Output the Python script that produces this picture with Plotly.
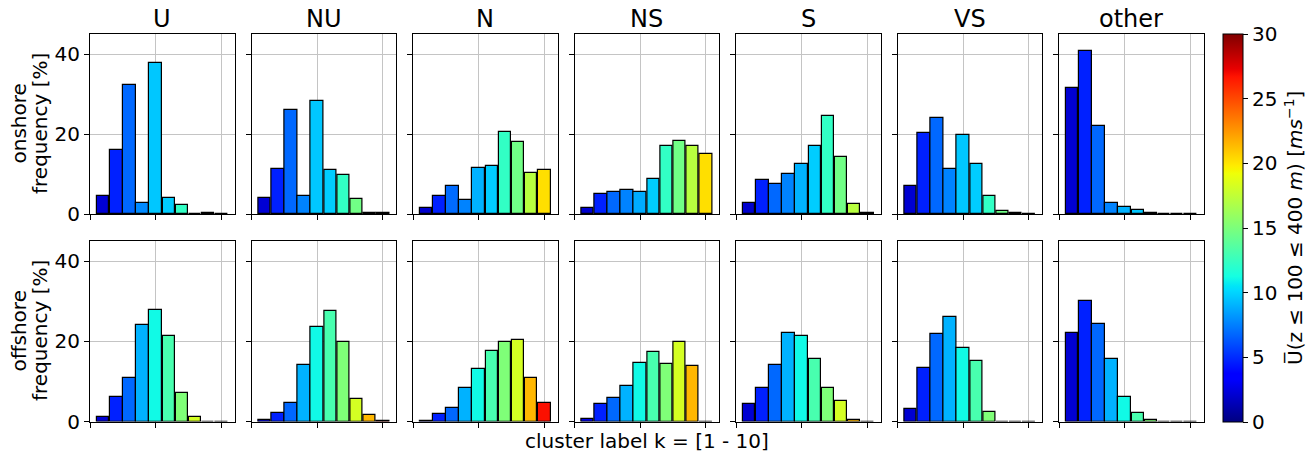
import numpy as np
import plotly.graph_objects as go

clusters = list(range(1, 11))
regimes = ["U", "NU", "N", "NS", "S", "VS", "other"]

# onshore frequency [%] per regime (cluster 1..10)
on_U = [4.6, 15.9, 32.3, 2.8, 37.8, 4.1, 2.2, 0.05, 0.15, 0.05]
on_NU = [4.1, 11.3, 26.1, 4.6, 28.2, 11.0, 9.8, 3.7, 0.3, 0.15]
on_N = [1.4, 4.5, 7.1, 3.6, 11.5, 12.1, 20.4, 17.9, 10.3, 10.9]
on_NS = [1.6, 5.1, 5.4, 6.0, 5.6, 8.8, 17.1, 18.2, 16.9, 15.1]
on_S = [2.8, 8.5, 7.6, 10.1, 12.6, 17.0, 24.4, 14.3, 2.6, 0.15]
on_VS = [7.0, 20.3, 23.9, 11.3, 19.7, 12.5, 4.5, 0.7, 0.15, 0.1]
on_other = [31.5, 40.8, 21.9, 2.7, 1.8, 1.0, 0.2, 0.1, 0.1, 0.05]

# offshore frequency [%]
off_U = [1.1, 6.2, 10.9, 24.0, 27.7, 21.4, 7.2, 1.1, 0.0, 0.0]
off_NU = [0.4, 2.1, 4.5, 14.0, 23.6, 27.6, 19.7, 5.7, 1.7, 0.2]
off_N = [0.2, 1.8, 3.3, 8.3, 13.0, 17.5, 19.7, 20.2, 10.9, 4.5]
off_NS = [0.7, 4.3, 5.8, 8.8, 14.5, 17.3, 14.3, 19.9, 13.9, 0.0]
off_S = [4.4, 8.4, 14.2, 22.1, 21.2, 15.6, 8.4, 5.0, 0.3, 0.0]
off_VS = [3.0, 13.4, 21.8, 26.0, 18.3, 15.2, 2.3, 0.0, 0.0, 0.0]
off_other = [22.1, 30.0, 24.2, 15.6, 6.2, 2.2, 0.3, 0.0, 0.0, 0.0]

# mean wind speed (100-400 m) per cluster [m/s]
spd_on_U = [2.2, 4.7, 6.8, 7.8, 9.6, 9.8, 12.3, 14.6, 17.2, 20.2]
spd_on_NU = [2.2, 4.7, 6.8, 7.6, 9.6, 9.8, 12.3, 14.6, 17.2, 20.2]
spd_on_N = [2.0, 4.7, 6.9, 7.6, 9.0, 9.8, 12.3, 14.6, 17.2, 20.2]
spd_on_NS = [2.0, 4.7, 6.8, 7.6, 8.8, 9.8, 12.3, 14.6, 17.2, 20.2]
spd_on_S = [2.0, 4.7, 6.8, 7.6, 9.0, 9.8, 12.3, 14.6, 17.2, 20.2]
spd_on_VS = [2.1, 4.7, 6.8, 7.6, 9.6, 9.8, 12.3, 14.6, 17.2, 20.2]
spd_on_other = [2.1, 4.7, 6.8, 7.6, 9.0, 9.6, 12.3, 14.6, 17.2, 20.2]
spd_off_U = [2.1, 4.7, 6.8, 9.0, 11.1, 13.1, 15.1, 18.2, 21.5, 26.8]
spd_off_NU = [2.1, 4.7, 6.8, 9.0, 11.1, 13.1, 15.1, 18.2, 21.5, 26.8]
spd_off_N = [2.1, 4.7, 6.8, 9.0, 11.1, 13.1, 15.1, 18.2, 21.5, 26.8]
spd_off_NS = [2.6, 4.7, 6.8, 9.0, 11.1, 13.1, 15.1, 18.2, 21.5, 26.8]
spd_off_S = [2.1, 4.7, 6.8, 9.0, 11.1, 13.1, 15.1, 18.2, 21.5, 26.8]
spd_off_VS = [2.1, 4.7, 6.8, 9.0, 11.1, 13.1, 15.1, 18.2, 21.5, 26.8]
spd_off_other = [2.1, 4.7, 6.8, 9.0, 11.1, 13.1, 15.1, 18.2, 21.5, 26.8]

onshore = [on_U, on_NU, on_N, on_NS, on_S, on_VS, on_other]
offshore = [off_U, off_NU, off_N, off_NS, off_S, off_VS, off_other]
spd_on = [spd_on_U, spd_on_NU, spd_on_N, spd_on_NS, spd_on_S, spd_on_VS, spd_on_other]
spd_off = [spd_off_U, spd_off_NU, spd_off_N, spd_off_NS, spd_off_S, spd_off_VS, spd_off_other]

# matplotlib "jet" colormap as a plotly colorscale
stops = [0, 0.11, 0.125, 0.34, 0.35, 0.375, 0.64, 0.65, 0.66, 0.89, 0.91, 1.0]
def _jet(t):
    r = np.interp(t, [0, 0.35, 0.66, 0.89, 1], [0, 0, 1, 1, 0.5])
    g = np.interp(t, [0, 0.125, 0.375, 0.64, 0.91, 1], [0, 0, 1, 1, 0, 0])
    b = np.interp(t, [0, 0.11, 0.34, 0.65, 1], [0.5, 1, 1, 0, 0])
    return "rgb(%d,%d,%d)" % (round(r * 255), round(g * 255), round(b * 255))
jet = [[s, _jet(s)] for s in stops]

W, H = 1315, 455
FONT = "DejaVu Sans"
FS = 20
col_left = [90, 251.5, 413, 574.5, 736, 897.5, 1059]
col_w = 144.5
rows_px = [(34, 214), (241, 421.5)]

fig = go.Figure()
layout = {}
for r in range(2):
    for c in range(7):
        n = r * 7 + c + 1
        vals = onshore[c] if r == 0 else offshore[c]
        spds = spd_on[c] if r == 0 else spd_off[c]
        marker = dict(color=spds, colorscale=jet, cmin=0, cmax=30,
                      line=dict(color="black", width=1.2))
        if n == 1:
            marker["showscale"] = True
            marker["colorbar"] = dict(
                x=1223 / W, xanchor="left", xref="paper",
                y=(H - 228) / H, yanchor="middle", yref="paper",
                len=388 / H, lenmode="fraction",
                thickness=20, thicknessmode="pixels",
                outlinewidth=1, outlinecolor="black",
                tickvals=[0, 5, 10, 15, 20, 25, 30],
                ticks="outside", ticklen=5, tickcolor="black",
                tickfont=dict(family=FONT, size=FS, color="black"),
                xpad=0, ypad=0,
            )
        fig.add_trace(go.Bar(x=clusters, y=vals, width=0.95, marker=marker,
                             xaxis="x%d" % n, yaxis="y%d" % n, showlegend=False,
                             hoverinfo="x+y"))
        x0 = col_left[c] / W
        x1 = (col_left[c] + col_w) / W
        ytop, ybot = rows_px[r]
        layout["xaxis%d" % n] = dict(
            domain=[x0, x1], anchor="y%d" % n, range=[0, 11],
            tickvals=[0, 5, 10], showticklabels=False,
            ticks="outside", ticklen=5, tickcolor="black",
            showgrid=True, gridcolor="#c4c4c4", gridwidth=1,
            showline=True, linecolor="black", linewidth=1, mirror=True,
            zeroline=False, fixedrange=True)
        layout["yaxis%d" % n] = dict(
            domain=[(H - ybot) / H, (H - ytop) / H], anchor="x%d" % n,
            range=[0, 45], tickvals=[0, 20, 40], showticklabels=(c == 0),
            tickfont=dict(family=FONT, size=FS, color="black"),
            ticks="outside", ticklen=5, tickcolor="black",
            showgrid=True, gridcolor="#c4c4c4", gridwidth=1,
            showline=True, linecolor="black", linewidth=1, mirror=True,
            zeroline=False, fixedrange=True)

annotations = []
for c, name in enumerate(regimes):
    annotations.append(dict(
        text=name, x=(col_left[c] + col_w / 2) / W, y=(H - 19) / H,
        xref="paper", yref="paper", showarrow=False,
        xanchor="center", yanchor="middle",
        font=dict(family=FONT, size=24, color="black")))

row_labels = [("onshore", "frequency [%]", 124), ("offshore", "frequency [%]", 331)]
for l1, l2, yc in row_labels:
    for txt, xc in ((l1, 18.5), (l2, 40)):
        annotations.append(dict(
            text=txt, x=xc / W, y=(H - yc) / H,
            xref="paper", yref="paper", showarrow=False, textangle=-90,
            xanchor="center", yanchor="middle",
            font=dict(family=FONT, size=FS, color="black")))

annotations.append(dict(
    text="cluster label k = [1 - 10]", x=647 / W, y=(H - 441) / H,
    xref="paper", yref="paper", showarrow=False,
    xanchor="center", yanchor="middle",
    font=dict(family=FONT, size=FS, color="black")))
annotations.append(dict(
    text="U\u0305(z \u2264 100 \u2264 400 <i>m</i>) [<i>ms</i><sup>\u22121</sup>]",
    x=1294 / W, y=(H - 228) / H,
    xref="paper", yref="paper", showarrow=False, textangle=-90,
    xanchor="center", yanchor="middle",
    font=dict(family=FONT, size=FS, color="black")))

fig.update_layout(
    width=W, height=H,
    margin=dict(l=0, r=0, t=0, b=0, autoexpand=False),
    paper_bgcolor="white", plot_bgcolor="white",
    bargap=0, annotations=annotations,
    font=dict(family=FONT, color="black"),
    **layout)

fig.write_html("out.html", config={"displayModeBar": False},
               post_script="document.body.style.margin='0';document.body.style.padding='0';")
